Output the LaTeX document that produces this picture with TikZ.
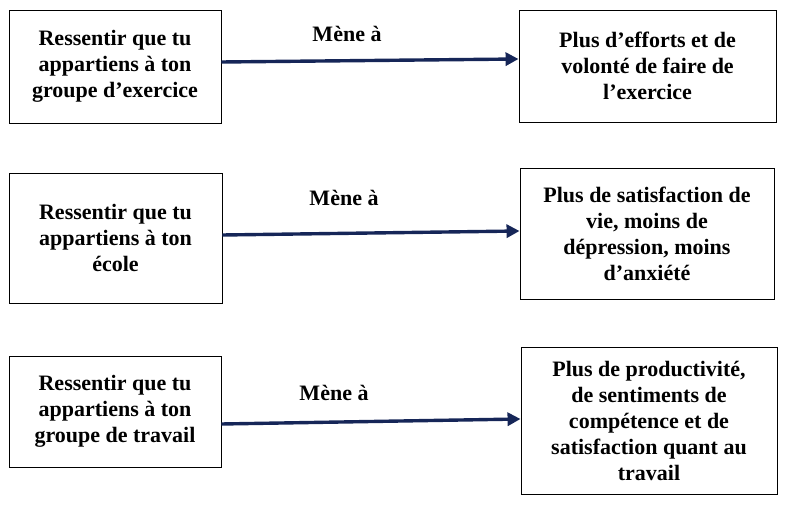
\documentclass[tikz,border=0pt]{standalone}
\usepackage{fontspec}
\setmainfont{Liberation Serif}
\usetikzlibrary{arrows.meta}
\tikzset{
  boite/.style={draw,line width=0.9pt,inner sep=0pt,align=center,font=\bfseries\fontsize{22}{26}\selectfont},
  fleche/.style={color={rgb, 255:red, 22; green, 38; blue, 88 },line width=3.4pt,-{Triangle[length=13pt,width=13pt]}},
  etiquette/.style={inner sep=0.75pt,font=\bfseries\fontsize{22}{26}\selectfont}
}
\begin{document}
\begin{tikzpicture}[x=1pt,y=1pt,yscale=-1,xscale=1]
\useasboundingbox (0,0) rectangle (785,505);

%Shape: Rectangle [id:exercice]
\draw (115,66.5) node [boite,minimum width=212,minimum height=113] (g1) {Ressentir que tu\\appartiens à ton\\groupe d’exercice};
\draw (647.5,66) node [boite,minimum width=257,minimum height=112] (d1) {Plus d’efforts et de\\volonté de faire de\\l’exercice};
%Shape: Rectangle [id:ecole]
\draw (115.5,238) node [boite,minimum width=213,minimum height=130] (g2) {Ressentir que tu\\appartiens à ton\\école};
\draw (647,233.5) node [boite,minimum width=254,minimum height=131] (d2) {Plus de satisfaction de\\vie, moins de\\dépression, moins\\d’anxiété};
%Shape: Rectangle [id:travail]
\draw (115,411.5) node [boite,minimum width=212,minimum height=111] (g3) {Ressentir que tu\\appartiens à ton\\groupe de travail};
\draw (649,420.5) node [boite,minimum width=256,minimum height=147] (d3) {Plus de productivité,\\de sentiments de\\compétence et de\\satisfaction quant au\\travail};

%Straight Lines [id:fleches]
\draw [fleche] ([yshift=-4.5]g1.east) -- ([yshift=-7]d1.west);
\draw [fleche] ([yshift=-3]g2.east) -- ([yshift=-2.5]d2.west);
\draw [fleche] ([yshift=12.5]g3.east) -- ([yshift=-1.5]d3.west);

% Text Node
\draw (347,34) node [etiquette] (m1) {Mène à};
% Text Node
\draw (344,198) node [etiquette] (m2) {Mène à};
% Text Node
\draw (334,393) node [etiquette] (m3) {Mène à};

\end{tikzpicture}
\end{document}
